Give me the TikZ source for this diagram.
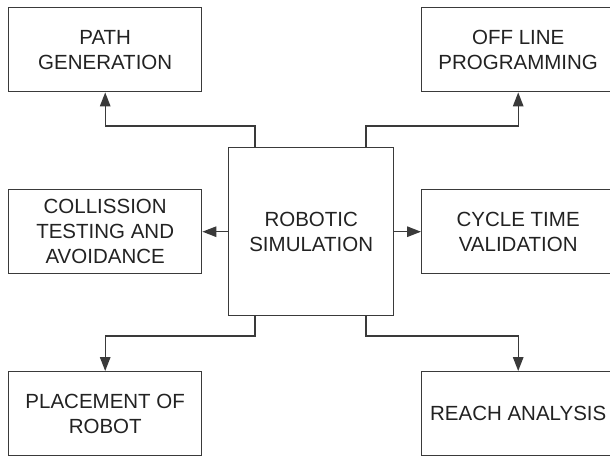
\documentclass[tikz,border=0pt]{standalone}
\usepackage{fontspec}
\setmainfont{Liberation Sans}
\usetikzlibrary{arrows.meta}
\definecolor{ln}{HTML}{3A3A3A}
\definecolor{tx}{HTML}{222222}
\tikzset{
  blk/.style={draw=ln, line width=1.4pt, inner sep=0pt, align=center, text=tx,
    font=\fontsize{20.5}{25}\selectfont, anchor=north west},
  conn/.style={draw=ln, line width=1.4pt, -{Triangle[length=14pt,width=10.5pt]}}
}
\begin{document}
\begin{tikzpicture}[x=1pt,y=-1pt]
\useasboundingbox (0,0) rectangle (610,455);
\clip (0,0) rectangle (610,455);
\node[blk, minimum width=193pt, minimum height=84pt] (path) at (8,7) {PATH\\GENERATION};
\node[blk, minimum width=193pt, minimum height=84pt] (off) at (421,7) {OFF LINE\\PROGRAMMING};
\node[blk, minimum width=193pt, minimum height=84pt] (col) at (8,189) {COLLISSION\\TESTING AND\\AVOIDANCE};
\node[blk, minimum width=193pt, minimum height=84pt] (cyc) at (421,189) {CYCLE TIME\\VALIDATION};
\node[blk, minimum width=193pt, minimum height=84pt] (pla) at (8,371) {PLACEMENT OF\\ROBOT};
\node[blk, minimum width=193pt, minimum height=84pt] (rea) at (421,371) {REACH ANALYSIS};
\node[blk, minimum width=165pt, minimum height=168pt] (rob) at (228,147) {ROBOTIC\\SIMULATION};
\coordinate (rt1) at (255,147);
\coordinate (rt2) at (366,147);
\coordinate (rb1) at (255,315);
\coordinate (rb2) at (366,315);
\draw[conn] (rt1) -- (255,126) -| (path.south);
\draw[conn] (rt2) -- (366,126) -| (off.south);
\draw[conn] (rb1) -- (255,336) -| (pla.north);
\draw[conn] (rb2) -- (366,336) -| (rea.north);
\draw[conn] (rob.west |- col.east) -- (col.east);
\draw[conn] (rob.east |- cyc.west) -- (cyc.west);
\end{tikzpicture}
\end{document}
